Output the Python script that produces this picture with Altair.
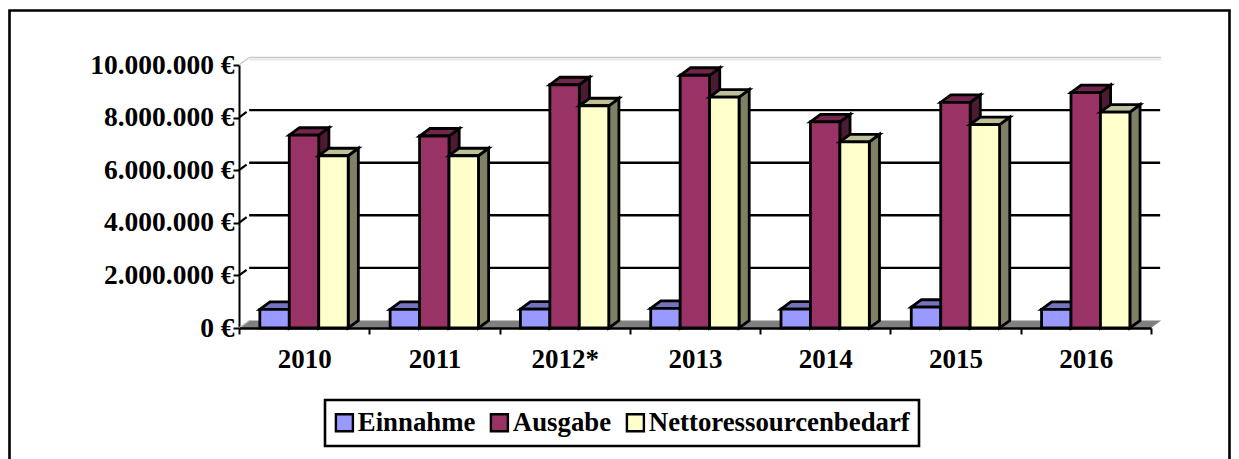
import altair as alt
import pandas as pd

years = ["2010", "2011", "2012*", "2013", "2014", "2015", "2016"]
series = ["Einnahme", "Ausgabe", "Nettoressourcenbedarf"]
einnahme = [710000, 710000, 720000, 750000, 720000, 790000, 710000]
ausgabe = [7330000, 7300000, 9250000, 9610000, 7840000, 8580000, 8950000]
netto = [6550000, 6550000, 8450000, 8780000, 7080000, 7730000, 8210000]
front_colors = ["#9999FF", "#993366", "#FFFFCC"]
top_colors = ["#7373BF", "#73264D", "#BFBF99"]
side_colors = ["#4D4D80", "#4D1A33", "#808066"]
y_ticks = [0, 2000000, 4000000, 6000000, 8000000, 10000000]

# layout constants
DX = 0.078     # depth in category units
DY = 285000    # depth in value units
W = 0.226      # bar width in category units
PAD = 0.16     # gap before first bar
SW = 2.8
FONT = "Liberation Serif"

x_q = lambda f, **k: alt.X(f, type="quantitative", scale=alt.Scale(domain=[0, 7]), axis=None, **k)
y_q = lambda f: alt.Y(f, type="quantitative", scale=alt.Scale(domain=[0, 10000000], nice=False),
                      stack=None,
                      axis=alt.Axis(values=y_ticks, title=None, grid=False,
                                    labelExpr="replace(format(datum.value, ',d'), /,/g, '.') + ' €'",
                                    labelFont=FONT, labelFontWeight="bold", labelFontSize=27.5,
                                    labelColor="black", labelPadding=-1, tickSize=6, tickWidth=2,
                                    tickColor="black", domainColor="black", domainWidth=2))

layers = []

# outer frame
frame = pd.DataFrame({"k": [0]})
layers.append(alt.Chart(frame).mark_rect(fill="white", fillOpacity=0, stroke="black", strokeWidth=2.6, clip=False).encode(
    x=alt.value(-229.5), x2=alt.value(990.5), y=alt.value(-54.5), y2=alt.value(420)))

# floor
floor = pd.DataFrame({"y": [0, DY], "a": [0, DX], "b": [7, 7 + DX]})
layers.append(alt.Chart(floor).mark_area(orient="horizontal", fill="#808080").encode(
    y=y_q("y"), x=x_q("a", stack=None), x2="b"))

# back wall grid and connecting diagonals
grid = pd.DataFrame({"v": [t + DY for t in y_ticks[1:-1]], "a": DX, "b": 7 + DX * 0.9})
layers.append(alt.Chart(grid).mark_rule(color="black", strokeWidth=2.4).encode(
    y=y_q("v"), x=x_q("a"), x2="b"))
for shift, col in [(1.0, "#C8C8C8"), (0.72, "#E8E8E8")]:
    top_grid = pd.DataFrame({"v": [10000000 + DY * shift], "a": [DX], "b": [7 + DX]})
    layers.append(alt.Chart(top_grid).mark_rule(strokeWidth=1.6, color=col).encode(
        y=y_q("v"), x=x_q("a"), x2="b"))
rows = []
for t in y_ticks:
    inner = 0 < t < 10000000
    rows += [{"t": t, "x": 0, "y": t},
             {"t": t, "x": DX * 0.75 if inner else DX, "y": t + DY * 0.75 if inner else t + DY}]
diag = pd.DataFrame(rows)
layers.append(alt.Chart(diag[diag.t.isin(y_ticks[1:-1])]).mark_line(color="black", strokeWidth=2.2).encode(
    x=x_q("x"), y=y_q("y"), detail="t:N"))
layers.append(alt.Chart(diag[~diag.t.isin(y_ticks[1:-1])]).mark_line(color="#C8C8C8", strokeWidth=1.4).encode(
    x=x_q("x"), y=y_q("y"), detail="t:N"))

# bars: side and top faces first, front face above them, series by series
for j, (name, vals) in enumerate(zip(series, [einnahme, ausgabe, netto])):
    tops, sides, fronts = [], [], []
    for i, (yr, v) in enumerate(zip(years, vals)):
        x0 = i + PAD + j * W
        tops += [{"yr": yr, "y": v, "a": x0, "b": x0 + W},
                 {"yr": yr, "y": v + DY, "a": x0 + DX, "b": x0 + W + DX}]
        sides += [{"yr": yr, "x": x0 + W, "y": v, "y0": 0},
                  {"yr": yr, "x": x0 + W + DX, "y": v + DY, "y0": DY}]
        fronts.append({"yr": yr, "s": name, "a": x0, "b": x0 + W, "y": v, "y0": 0})
    layers.append(alt.Chart(pd.DataFrame(sides)).mark_area(
        orient="vertical", fill=side_colors[j], stroke="black", strokeWidth=SW).encode(
        x=x_q("x"), y=y_q("y"), y2="y0", detail="yr:N"))
    layers.append(alt.Chart(pd.DataFrame(tops)).mark_area(
        orient="horizontal", fill=top_colors[j], stroke="black", strokeWidth=SW).encode(
        y=y_q("y"), x=x_q("a", stack=None), x2="b", detail="yr:N"))
    layers.append(alt.Chart(pd.DataFrame(fronts)).mark_rect(stroke="black", strokeWidth=SW).encode(
        x=x_q("a"), x2="b", y=y_q("y"), y2="y0",
        color=alt.Color("s:N", scale=alt.Scale(domain=series, range=front_colors),
                        legend=alt.Legend(orient="none", legendX=86, legendY=335, direction="horizontal",
                                          title=None, symbolType="square", symbolSize=289,
                                          symbolStrokeColor="black", symbolStrokeWidth=2.4, symbolOpacity=1,
                                          symbolOffset=-3,
                                          labelFont=FONT, labelFontWeight="bold", labelFontSize=26.8,
                                          labelColor="black", labelLimit=400, labelOffset=0,
                                          columnPadding=10, padding=9, fillColor="white",
                                          strokeColor="black"))))

# category axis
cats = pd.DataFrame({"yr": years})
layers.append(alt.Chart(cats).mark_point(opacity=0).encode(
    x=alt.X("yr:N", sort=years, scale=alt.Scale(paddingInner=0, paddingOuter=0),
            axis=alt.Axis(title=None, labelAngle=0, tickBand="extent", tickSize=6, tickWidth=2,
                          tickColor="black", domainColor="black", domainWidth=2.4, grid=False,
                          labelFont=FONT, labelFontWeight="bold", labelFontSize=27,
                          labelColor="black", labelPadding=12, zindex=1))))

chart = alt.layer(*layers).resolve_scale(x="independent").properties(
    width=912, height=263,
    padding={"left": 231, "top": 57, "right": 80, "bottom": 131},
    autosize=alt.AutoSizeParams(type="none"),
    background="white",
).configure_view(stroke=None).configure_legend(strokeWidth=2.6)

chart.save("out.html", embed_options={"renderer": "svg", "actions": False})
